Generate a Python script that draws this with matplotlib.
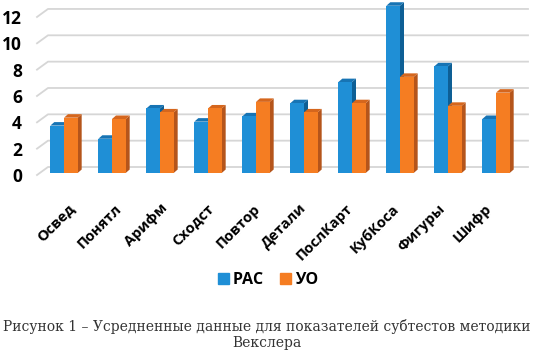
import matplotlib
matplotlib.use('agg')
import matplotlib.pyplot as plt
from matplotlib.patches import Polygon

# data
categories = ["Освед", "Понятл", "Арифм", "Сходст", "Повтор",
              "Детали", "ПослКарт", "КубКоса", "Фигуры", "Шифр"]
ras = [3.6, 2.6, 4.9, 3.9, 4.3, 5.3, 6.9, 12.7, 8.1, 4.1]
uo = [4.2, 4.1, 4.6, 4.9, 5.4, 4.6, 5.3, 7.3, 5.1, 6.1]
yticks = [0, 2, 4, 6, 8, 10, 12]

plt.rcParams['font.family'] = ['Open Sans', 'DejaVu Sans']

W, H = 533, 354
PX_PER_UNIT = 13.17
fig = plt.figure(figsize=(W / 100, H / 100), dpi=100)
ax_left, ax_bottom, ax_w, ax_h = 40, 175, 480, 175
ax = fig.add_axes([ax_left / W, 1 - ax_bottom / H, ax_w / W, ax_h / H])
ax.set_xlim(-0.5, 9.5)
ax.set_ylim(0, ax_h / PX_PER_UNIT)
for s in ax.spines.values():
    s.set_visible(False)

px_x = 1 / 48.0           # data units per pixel in x
px_y = 1 / PX_PER_UNIT    # data units per pixel in y

# back wall gridlines with slanted side wall
wall_dx, wall_dy = 11 * px_x, 8 * px_y
x0 = -0.5 - 3 * px_x
x_end = 9.5 + 8 * px_x
for v in yticks:
    ax.plot([x0, x0 + wall_dx, x_end], [v, v + wall_dy, v + wall_dy],
            color='#d6d6d6', lw=1.3, clip_on=False, zorder=1)

# 3d-ish bars
bw = 0.285
base = 2 * px_y
ddx, ddy = 4 * px_x, 3.5 * px_y
blue = ('#1f8fd6', '#0e5f95', '#1774b4')
orange = ('#f57d22', '#b5551b', '#d5661d')


def bar3d(x, h, cols):
    front, side, top = cols
    t = base + h
    ax.add_patch(Polygon([(x + bw, base), (x + bw + ddx, base + ddy),
                          (x + bw + ddx, t + ddy), (x + bw, t)],
                         closed=True, fc=side, ec='none', zorder=3, clip_on=False))
    ax.add_patch(Polygon([(x, t), (x + ddx, t + ddy), (x + bw + ddx, t + ddy), (x + bw, t)],
                         closed=True, fc=top, ec='none', zorder=3, clip_on=False))
    ax.bar(x, h, width=bw, bottom=base, align='edge', color=front, zorder=4, clip_on=False)


for i in range(len(categories)):
    bar3d(i - bw, ras[i], blue)
    bar3d(i, uo[i], orange)

ax.set_yticks(yticks)
ax.set_yticklabels([str(v) for v in yticks], fontsize=12.5, fontweight='bold')
# label row is slightly narrower than the bar row
ax.set_xticks([0.08 + i * 0.965 for i in range(len(categories))])
ax.set_xticklabels(categories, fontsize=10.5, fontweight='bold', rotation=45,
                   ha='right', va='top', rotation_mode='anchor')
ax.tick_params(axis='y', length=0, pad=13)
ax.tick_params(axis='x', length=0, pad=19)

# legend
h1 = plt.Rectangle((0, 0), 1, 1, color=blue[0])
h2 = plt.Rectangle((0, 0), 1, 1, color=orange[0])
fig.legend([h1, h2], ["РАС", "УО"], loc='center', bbox_to_anchor=(268 / W, 1 - 280 / H),
           ncol=2, frameon=False, handlelength=0.7, handleheight=0.7,
           handletextpad=0.25, columnspacing=1.0,
           prop={'family': ['Open Sans', 'DejaVu Sans'], 'weight': 'bold', 'size': 11.5})

# caption
fig.text(0.5, 1 - 327 / H, "Рисунок 1 – Усредненные данные для показателей субтестов методики",
         ha='center', va='center', fontsize=10, family='DejaVu Serif', color='#333333')
fig.text(0.5, 1 - 343 / H, "Векслера", ha='center', va='center',
         fontsize=10, family='DejaVu Serif', color='#333333')

fig.savefig('out.png', dpi=100, facecolor='white')
